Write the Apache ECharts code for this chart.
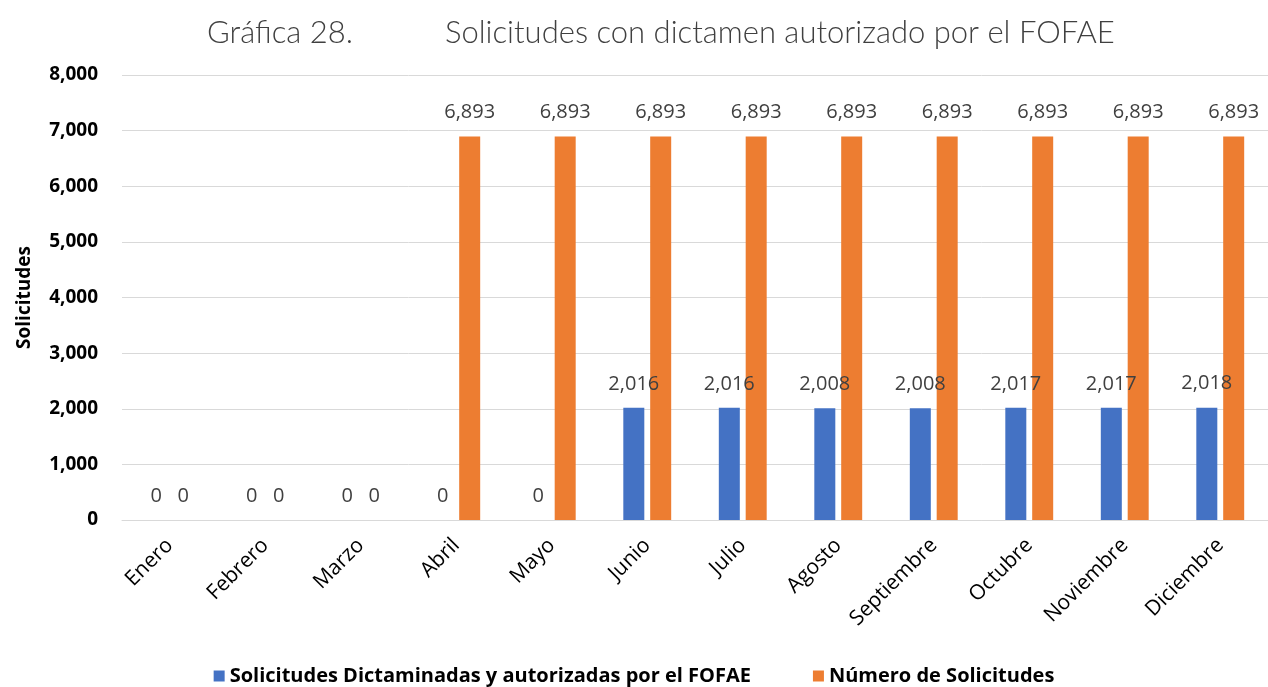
<!DOCTYPE html>
<html>
<head>
<meta charset="utf-8">
<script src="https://cdn.jsdelivr.net/npm/echarts@6/dist/echarts.min.js"></script>
<style>
  html, body { margin: 0; padding: 0; background: #fff; }
  #main { width: 1268px; height: 687px; }
</style>
</head>
<body>
<div id="main"></div>
<script>
// datos
var meses = ['Enero', 'Febrero', 'Marzo', 'Abril', 'Mayo', 'Junio', 'Julio', 'Agosto', 'Septiembre', 'Octubre', 'Noviembre', 'Diciembre'];
var dictaminadas = [0, 0, 0, 0, 0, 2016, 2016, 2008, 2008, 2017, 2017, 2018];
var numSolicitudes = [0, 0, 0, 6893, 6893, 6893, 6893, 6893, 6893, 6893, 6893, 6893];
var serieNombres = ['Solicitudes Dictaminadas y autorizadas por el FOFAE', 'Número de Solicitudes'];

var fuente = '"Open Sans", "Noto Sans", sans-serif';
var myChart = echarts.init(document.getElementById('main'));

var etiqueta = {
    show: true,
    position: 'top',
    distance: 14,
    fontFamily: fuente,
    fontSize: 20,
    color: '#404040',
    formatter: function (p) {
        return p.value.toLocaleString('en-US');
    }
};

var estiloTitulo = { fontFamily: 'Lato, sans-serif', fontWeight: 300, fontSize: 31, color: '#404040' };

var option = {
    animation: false,
    backgroundColor: '#fff',
    title: [
        { text: 'Gráfica 28.', left: 202, top: 12, textStyle: estiloTitulo },
        { text: 'Solicitudes con dictamen autorizado por el FOFAE', left: 440, top: 12, textStyle: estiloTitulo }
    ],
    legend: {
        bottom: -4,
        left: 'center',
        icon: 'rect',
        itemWidth: 11,
        itemHeight: 11,
        itemGap: 62,
        textStyle: { fontFamily: fuente, fontWeight: 'bold', fontSize: 20, color: '#000' },
        data: serieNombres
    },
    grid: {
        left: 122,
        right: 0,
        top: 75,
        bottom: 167
    },
    xAxis: {
        type: 'category',
        data: meses,
        axisTick: { show: false },
        axisLine: { lineStyle: { color: '#d9d9d9', width: 1 } },
        axisLabel: {
            rotate: 45,
            interval: 0,
            margin: 22,
            fontFamily: fuente,
            fontSize: 21,
            color: '#000'
        }
    },
    yAxis: {
        type: 'value',
        min: 0,
        max: 8000,
        interval: 1000,
        name: 'Solicitudes',
        nameLocation: 'middle',
        nameGap: 88,
        nameTextStyle: { fontFamily: fuente, fontWeight: 'bold', fontSize: 19, color: '#000' },
        axisLine: { show: false },
        axisTick: { show: false },
        splitLine: { lineStyle: { color: '#d9d9d9', width: 1 } },
        axisLabel: {
            margin: 24,
            fontFamily: fuente,
            fontWeight: 'bold',
            fontSize: 19,
            color: '#000',
            formatter: function (v) { return v.toLocaleString('en-US'); }
        }
    },
    series: [
        {
            name: serieNombres[0],
            type: 'bar',
            data: dictaminadas,
            barWidth: 21,
            barGap: '28%',
            itemStyle: { color: '#4472c4' },
            label: etiqueta
        },
        {
            name: serieNombres[1],
            type: 'bar',
            data: numSolicitudes,
            barWidth: 21,
            itemStyle: { color: '#ed7d31' },
            label: etiqueta
        }
    ]
};
myChart.setOption(option);
</script>
</body>
</html>
